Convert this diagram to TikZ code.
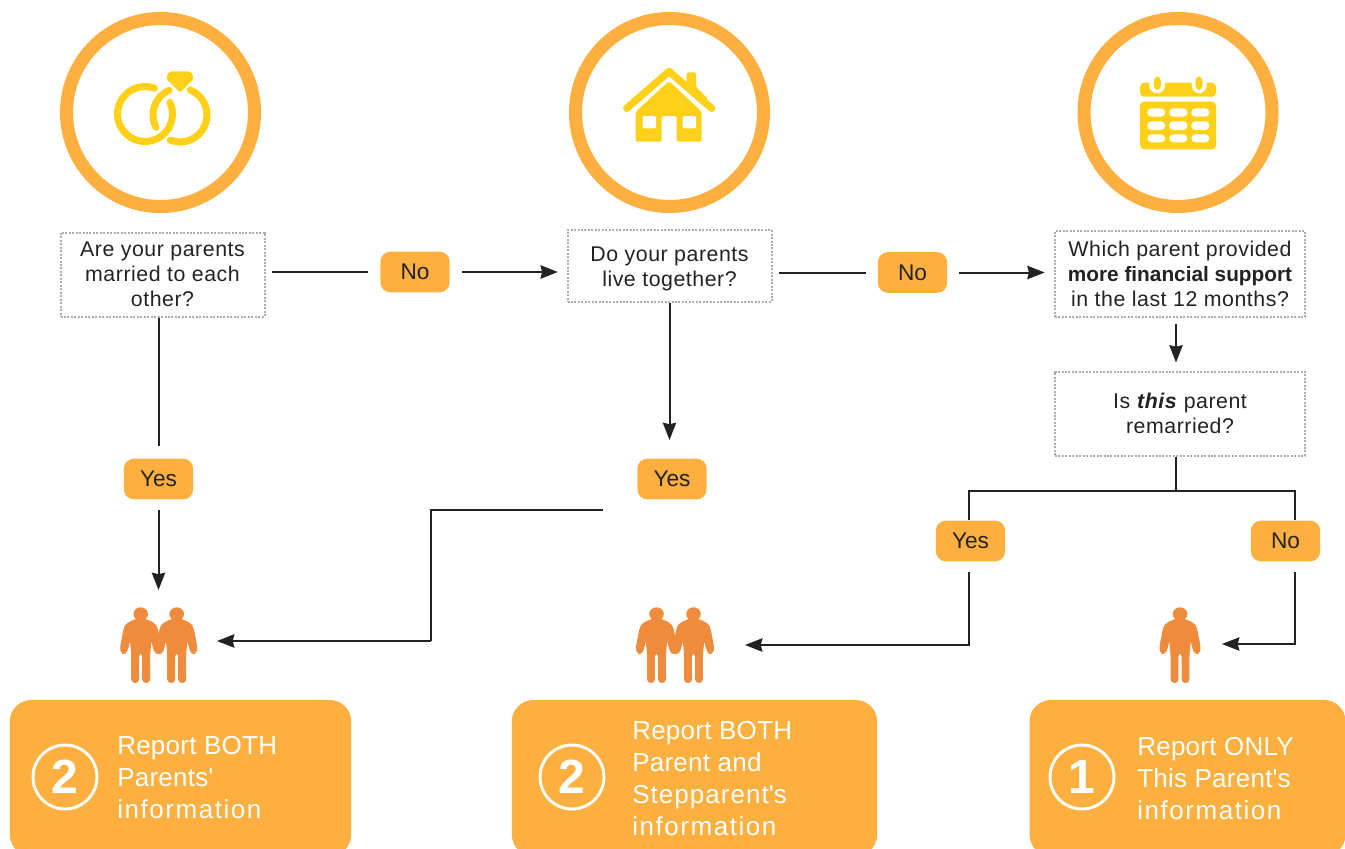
\documentclass[tikz,border=0pt]{standalone}
\usepackage{fontspec}
\setmainfont{Liberation Sans}
\newfontfamily\qfont[LetterSpace=2.5,BoldFeatures={LetterSpace=0,Scale=0.975}]{Liberation Sans}
\newfontfamily\repfont[LetterSpace=1]{Liberation Sans}
\newcommand{\spreadword}[2]{{\addfontfeature{LetterSpace=#1}#2}}
\usetikzlibrary{arrows.meta}
\definecolor{ring_c}{HTML}{FDB040}
\definecolor{icon_c}{HTML}{FFD018}
\definecolor{person_c}{HTML}{EF8B3C}
\definecolor{line_c}{HTML}{222222}
\tikzset{
  treenode/.style = {align=center, inner sep=0pt, text centered, text=line_c},
  % question box: dotted frame
  q_box/.style = {treenode, rectangle, draw=black!32, dash pattern=on 1.5pt off 1.1pt, line width=1.5pt, font=\fontsize{16}{18.75}\selectfont\qfont},
  % answer: small orange pill
  pill_A/.style = {treenode, rectangle, fill=ring_c, rounded corners=7.5pt, minimum width=52pt, minimum height=30.5pt, font=\fontsize{17}{20}\selectfont},
  report_B/.style = {rectangle, fill=ring_c, rounded corners=16pt},
  report_T/.style = {align=left, inner sep=0pt, text=white, font=\fontsize{19.5}{24}\selectfont\repfont},
  num_C/.style = {circle, draw=white, line width=2.2pt, inner sep=0pt, minimum size=48pt, text=white, font=\fontsize{36}{36}\selectfont\bfseries},
  top_C/.style = {circle, draw=ring_c, line width=9.8pt, inner sep=0pt, minimum size=141pt},
  link_L/.style = {draw=line_c, line width=1.5pt},
  link_A/.style = {link_L, -{Stealth[length=13pt,width=10pt,inset=1.2pt]}},
  person/.pic = {
    \fill[person_c] (0,0) ellipse [x radius=7.3, y radius=6.7];
    \filldraw[person_c, line width=0.7pt, line join=round, rounded corners=2.5] (-4,5) -- (-14,9.5) -- (-16.5,14) -- (-20.5,35) -- (-18.5,39.5) -- (-15,39) -- (-13,35) -- (-10.5,24)
      -- (-9,40) -- (-9,68.5) -- (-2,68.5) -- (-2,39) -- (2,39) -- (2,68.5) -- (9,68.5) -- (9,40)
      -- (10.5,24) -- (13,35) -- (15,39) -- (18.5,39.5) -- (20.5,35) -- (16.5,14) -- (14,9.5) -- (4,5) -- cycle;
  }
}
\begin{document}
\begin{tikzpicture}[x=0.75pt,y=-0.75pt]
  \useasboundingbox (0,0) rectangle (1345,849);
  % Top circles:
  \node [top_C] (ring_a) at (160.5,112.5) {};
  \node [top_C] (ring_b) at (669.5,112.5) {};
  \node [top_C] (ring_c) at (1178,112.5) {};
  % Rings icon:
  \draw [icon_c, line width=5.3pt, line cap=round] (145,114) ++(-70:27.5) arc [start angle=-70, end angle=-385, radius=27.5];
  \draw [icon_c, line width=5.3pt, line cap=round] (180,115) ++(-114:27) arc [start angle=-114, end angle=-207, radius=27];
  \draw [icon_c, line width=5.3pt, line cap=round] (180,115) ++(-68:27) arc [start angle=-68, end angle=111, radius=27];
  \fill [icon_c, rounded corners=1.5] (169,71.5) -- (191,71.5) -- (194,78.5) -- (180,92.5) -- (166,78.5) -- cycle;
  % House icon:
  \draw [icon_c, line width=5.5pt, line cap=round, line join=round] (626.7,108.3) -- (669,71.5) -- (711.7,108.3);
  \fill [icon_c, rounded corners=1] (686.7,85) -- (686.7,72.5) -- (696,72.5) -- (696,87) -- (708,99) -- (698,100) -- cycle;
  \fill [icon_c, rounded corners=1.5] (635.7,111.7) -- (669,81) -- (701.7,111.7) -- (701.7,141.7) -- (676.7,141.7) -- (676.7,116) -- (661.7,116) -- (661.7,141.7) -- (635.7,141.7) -- cycle;
  \fill [white, rounded corners=1.5] (642.7,116) rectangle (656,128.3);
  \fill [white, rounded corners=1.5] (682.7,116) rectangle (696,128.3);
  % Calendar icon:
  \fill [icon_c, rounded corners=3] (1140,82.7) rectangle (1216,96.7);
  \fill [white, rounded corners=6] (1149.3,70) rectangle (1165,93.3);
  \fill [white, rounded corners=6] (1191.7,70) rectangle (1206.7,93.3);
  \fill [icon_c] (1157.3,83.3) ellipse [x radius=3.7, y radius=6.7];
  \fill [icon_c] (1199,83.3) ellipse [x radius=3.7, y radius=6.7];
  \fill [icon_c, rounded corners=3] (1140,101.7) rectangle (1216,149.3);
  \foreach \xa/\xb in {1147.3/1165,1169.3/1187.3,1191.3/1209.3}
    \foreach \ya/\yb in {108.3/116.7,121.3/130,134.3/142.3}
      \fill [white, rounded corners=3] (\xa,\ya) rectangle (\xb,\yb);
  % Questions:
  \node [q_box, minimum width=153pt, minimum height=63pt] (q_married) at (162.5,274.5) {Are your parents\\married to each\\other?};
  \node [q_box, minimum width=153pt, minimum height=54pt] (q_together) at (669.5,266) {\rule{0pt}{16pt}Do your parents\\live together?};
  \node [q_box, minimum width=187.5pt, minimum height=64pt] (q_support) at (1180,274) {Which parent provided\\\textbf{more financial support}\\in the last 12 months?};
  \node [q_box, minimum width=187.5pt, minimum height=63pt] (q_remarried) at (1180,413.5) {Is \textbf{\textit{this}} parent\\remarried?};
  % Answers:
  \node [pill_A] (no_a) at (415,272) {No};
  \node [pill_A] (no_b) at (912.5,272.5) {No};
  \node [pill_A] (yes_a) at (158.5,479) {Yes};
  \node [pill_A] (yes_b) at (672,479) {Yes};
  \node [pill_A] (yes_c) at (970.5,541) {Yes};
  \node [pill_A] (no_c) at (1285.5,541) {No};
  % People:
  \pic at (140.7,614) {person};
  \pic at (176.7,614) {person};
  \pic at (656.5,614) {person};
  \pic at (693.5,614) {person};
  \pic at (1180,614) {person};
  % Report boxes:
  \node [report_B, minimum width=256pt, minimum height=117pt] (rep_a) at (180.5,778) {};
  \node [report_B, minimum width=274pt, minimum height=117pt] (rep_b) at (694.5,778) {};
  \node [report_B, minimum width=237pt, minimum height=117pt] (rep_c) at (1187.5,778) {};
  \node [num_C] (num_a) at (65,777) {2};
  \node [num_C] (num_b) at (572,777) {2};
  \node [num_C] (num_c) at (1082,777) {1};
  \node [report_T, anchor=west] (txt_a) at (117,778) {Report BOTH\\Parents\textquotesingle\\\spreadword{6}{information}};
  \node [report_T, anchor=west] (txt_b) at (632,779) {Report BOTH\\Parent and\\\spreadword{4}{Stepparent\textquotesingle s}\\\spreadword{6}{information}};
  \node [report_T, anchor=west] (txt_c) at (1137,779) {Report ONLY\\This Parent\textquotesingle s\\\spreadword{6}{information}};
  % Free ends:
  \coordinate (tip_a) at (158.5,590);
  \coordinate (tip_b) at (669.5,440);
  \coordinate (from_b) at (603,510);
  \coordinate (bend_b) at (431,510);
  \coordinate (tip_c) at (217,641);
  \coordinate (fork) at (1176,491);
  \coordinate (fork_y) at (969,491);
  \coordinate (fork_n) at (1295,491);
  \coordinate (from_y) at (969,572);
  \coordinate (from_n) at (1295,572);
  \coordinate (tip_d) at (745,645);
  \coordinate (tip_e) at (1222,644);
  % Links:
  \draw [link_L, shorten <=4.5pt, shorten >=9pt] (q_married.east |- no_a) -- (no_a.west);
  \draw [link_A, shorten <=9pt, shorten >=6.5pt] (no_a.east) -- (no_a.east -| q_together.west);
  \draw [link_L, shorten <=5pt, shorten >=9pt] (q_together.east |- no_b) -- (no_b.west);
  \draw [link_A, shorten <=9pt, shorten >=7pt] (no_b.east) -- (no_b.east -| q_support.west);
  \draw [link_L, shorten >=9pt] (q_married.south -| yes_a) -- (yes_a.north);
  \draw [link_A, shorten <=8pt] (yes_a.south) -- (tip_a);
  \draw [link_A] (q_together.south) -- (tip_b);
  \draw [link_L, line join=miter] (from_b) -- (bend_b) -- (bend_b |- tip_c);
  \draw [link_A] (bend_b |- tip_c) -- (tip_c);
  \draw [link_A, shorten <=5pt, shorten >=6pt] (fork |- q_support.south) -- (fork |- q_remarried.north);
  \draw [link_L] (fork |- q_remarried.south) -- (fork);
  \draw [link_L] (fork_y |- yes_c.north) -- (fork_y) -- (fork_n) -- (fork_n |- no_c.north);
  \draw [link_A] (from_y) |- (tip_d);
  \draw [link_A] (from_n) |- (tip_e);
\end{tikzpicture}
\end{document}
